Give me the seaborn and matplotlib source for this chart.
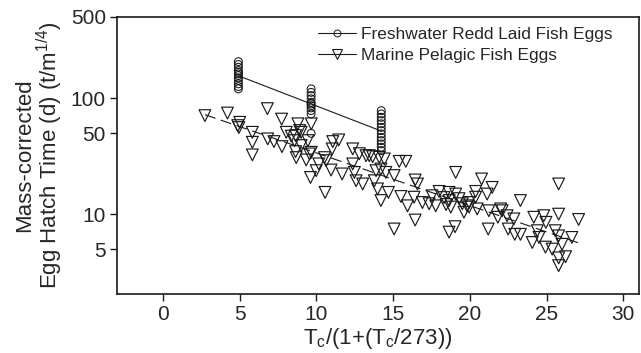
# -*- coding: utf-8 -*-
"""
Egg hatch time vs temperature: freshwater redd vs marine pelagic eggs
"""

import numpy as np
import pandas as pd
import matplotlib
matplotlib.use('Agg')
import matplotlib.pyplot as plt
import seaborn as sns

# Freshwater redd laid eggs: three temperature groups
fw_x = [4.91, 9.65, 14.22]
fw_y_low = [206, 194.5, 184.4, 172.6, 166.9, 161.6, 156.3, 149.3, 141.6, 132.6, 125.7, 120.1]
fw_y_mid = [120, 112, 105, 98.4, 92, 89, 86, 82.3, 78, 73, 49.7]
fw_y_high = [78, 73, 68.3, 64, 60, 56, 52.5, 49.1, 45.9, 43, 40.3, 37.7, 35.3]

# Marine pelagic eggs
mp_x = [2.73, 4.2, 5.0, 4.87, 4.94, 6.8, 5.82, 5.82, 5.82, 6.82, 7.23, 7.73, 7.75,
        8.03, 8.36, 8.64, 8.79, 8.57, 8.64, 8.68, 9.44, 9.66, 9.33, 9.61, 10.15,
        9.98, 10.56, 10.63, 9.0, 9.66, 10.52, 11.06, 11.45, 11.02, 10.95, 11.67,
        12.36, 12.79, 13.23, 13.44, 13.66, 14.09, 14.42, 12.36, 12.47, 12.58,
        13.01, 13.77, 13.98, 14.2, 14.69, 15.06, 15.39, 15.82, 13.88, 14.2, 15.06,
        15.5, 15.93, 16.43, 16.36, 16.43, 16.58, 16.9, 17.34, 17.77, 17.99, 18.64,
        18.64, 18.75, 19.07, 19.5, 19.61, 19.07, 19.03, 18.64, 19.94, 20.37, 20.47,
        20.76, 21.12, 21.23, 21.45, 21.19, 21.82, 22.1, 22.42, 22.86, 22.49, 22.92,
        23.29, 23.29, 24.16, 24.06, 24.39, 24.5, 24.81, 24.95, 24.92, 25.36, 25.78,
        25.78, 25.56, 25.78, 26.0, 26.23, 25.78, 25.78, 26.64, 27.08,
        8.9, 14.52, 9.55, 9.0, 18.31, 18.44, 19.29, 19.81, 17.53, 20.37, 19.94, 22.0]
mp_y = [70.6, 74.3, 61.8, 57.9, 55.7, 81.1, 50.7, 41.6, 32.4, 44.5, 42.2, 65.9, 38.2,
        50.7, 47.0, 47.5, 60.0, 43.0, 34.6, 30.7, 43.0, 60.0, 29.3, 20.7, 27.1,
        23.7, 15.4, 28.9, 50.7, 34.1, 30.7, 42.2, 43.6, 36.5, 24.0, 22.2,
        36.5, 33.2, 31.9, 31.9, 31.3, 30.9, 29.9, 27.1, 22.9, 19.4,
        18.2, 19.4, 16.5, 13.1, 15.4, 21.5, 28.5, 28.5, 23.7, 24.5, 7.45,
        14.2, 11.8, 8.9, 14.0, 19.7, 18.2, 12.6, 12.3, 11.8, 15.7, 15.4,
        13.1, 11.5, 14.9, 12.3, 10.4, 22.9, 7.8, 7.0, 11.5, 15.7, 11.1,
        20.1, 14.9, 10.7, 17.0, 7.45, 9.4, 10.7, 9.7, 9.1, 7.45, 6.7,
        6.7, 13.1, 9.4, 5.7, 7.2, 6.3, 9.7, 8.5, 5.2, 5.0, 18.2,
        10.0, 7.2, 6.5, 5.5, 4.3, 3.6, 4.2, 6.3, 9.0,
        52.5, 22.9, 33.0, 39.0, 13.9, 12.1, 13.6, 11.8, 14.4, 14.0, 12.6, 11.1]

fw = pd.DataFrame({
    'x': [fw_x[0]] * len(fw_y_low) + [fw_x[1]] * len(fw_y_mid) + [fw_x[2]] * len(fw_y_high),
    'y': fw_y_low + fw_y_mid + fw_y_high,
})
mp = pd.DataFrame({'x': mp_x, 'y': mp_y})

sns.set_style('ticks')
plt.rcParams['font.family'] = ['Liberation Sans', 'DejaVu Sans']
plt.rcParams['mathtext.default'] = 'regular'

fig = plt.figure(figsize=(6.41, 3.53), dpi=100)
ax = fig.add_axes([0.1825, 0.167, 0.814, 0.785])

# exponential fits (linear in log10 space)
def fit_line(df):
    b, a = np.polyfit(df['x'], np.log10(df['y']), 1)
    xs = np.array([df['x'].min(), df['x'].max()])
    return xs, 10 ** (a + b * xs)

fx, fy = fit_line(fw)
mx, my = fit_line(mp)

sns.scatterplot(data=fw, x='x', y='y', marker='o', s=32, facecolor='none',
                edgecolor='#1a1a1a', linewidth=0.75, ax=ax, zorder=3)
sns.scatterplot(data=mp, x='x', y='y', marker='v', s=72, facecolor='none',
                edgecolor='#1a1a1a', linewidth=0.85, ax=ax, zorder=3)
ax.plot(fx, fy, color='#1a1a1a', lw=0.8, zorder=2)
ax.plot(mx, my, color='#1a1a1a', lw=0.8, ls=(0, (10, 5)), zorder=2)

# legend proxies
h1, = ax.plot([], [], color='#1a1a1a', lw=0.8, marker='o', ms=5,
              mfc='none', mec='#1a1a1a', mew=0.7)
h2, = ax.plot([], [], color='#1a1a1a', lw=0.8, marker='v', ms=7,
              mfc='none', mec='#1a1a1a', mew=0.8)
ax.legend([h1, h2], ['Freshwater Redd Laid Fish Eggs', 'Marine Pelagic Fish Eggs'],
          loc='upper left', bbox_to_anchor=(0.372, 0.988), frameon=False,
          fontsize=12.4, handlelength=2.2, handletextpad=0.3, labelspacing=0.35,
          borderaxespad=0)

ax.set_yscale('log')
ax.set_xlim(-3, 31)
ax.set_ylim(2.05, 500)
ax.set_xticks([0, 5, 10, 15, 20, 25, 30])
ax.set_yticks([5, 10, 50, 100, 500])
ax.set_yticklabels(['5', '10', '50', '100', '500'])
ax.yaxis.set_minor_locator(matplotlib.ticker.NullLocator())
ax.tick_params(labelsize=15, length=5, width=1.0, color='#1a1a1a', pad=3)

for sp in ax.spines.values():
    sp.set_linewidth(1.2)
    sp.set_color('#1a1a1a')

ax.set_xlabel('T$_c$/(1+(T$_c$/273))', fontsize=16, labelpad=1)
ax.set_ylabel('Mass-corrected\nEgg Hatch Time (d) (t/m$^{1/4}$)', fontsize=16,
              labelpad=4, linespacing=1.0)

fig.savefig('out.png', dpi=100)
plt.close(fig)
